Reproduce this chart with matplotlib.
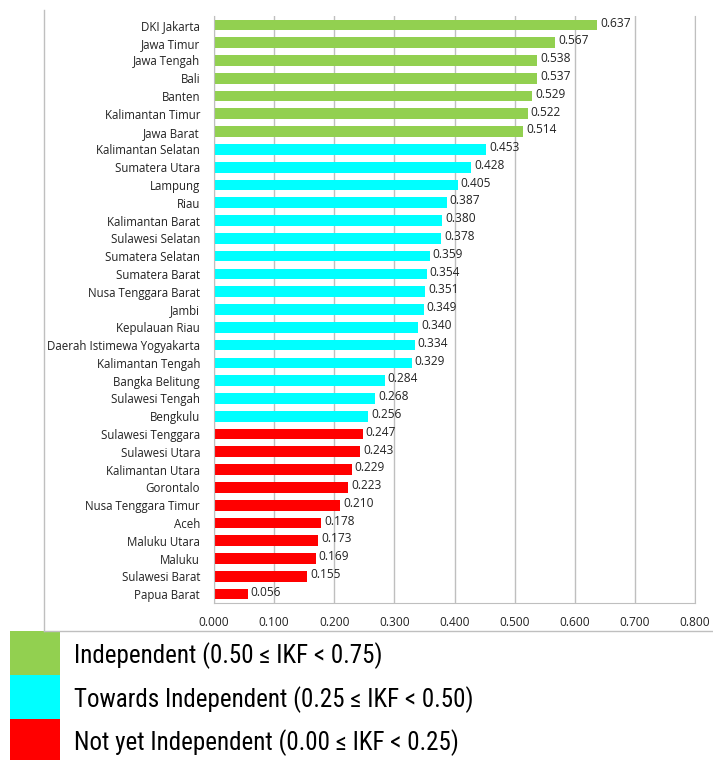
import matplotlib.pyplot as plt
from matplotlib.patches import Rectangle
from matplotlib.lines import Line2D
from matplotlib import font_manager

# Regional fiscal independence index (IKF) by province
provinces = [
    "DKI Jakarta", "Jawa Timur", "Jawa Tengah", "Bali", "Banten",
    "Kalimantan Timur", "Jawa Barat", "Kalimantan Selatan", "Sumatera Utara",
    "Lampung", "Riau", "Kalimantan Barat", "Sulawesi Selatan",
    "Sumatera Selatan", "Sumatera Barat", "Nusa Tenggara Barat", "Jambi",
    "Kepulauan Riau", "Daerah Istimewa Yogyakarta", "Kalimantan Tengah",
    "Bangka Belitung", "Sulawesi Tengah", "Bengkulu", "Sulawesi Tenggara",
    "Sulawesi Utara", "Kalimantan Utara", "Gorontalo", "Nusa Tenggara Timur",
    "Aceh", "Maluku Utara", "Maluku", "Sulawesi Barat", "Papua Barat",
]
ikf = [
    0.637, 0.567, 0.538, 0.537, 0.529, 0.522, 0.514, 0.453, 0.428, 0.405,
    0.387, 0.380, 0.378, 0.359, 0.354, 0.351, 0.349, 0.340, 0.334, 0.329,
    0.284, 0.268, 0.256, 0.247, 0.243, 0.229, 0.223, 0.210, 0.178, 0.173,
    0.169, 0.155, 0.056,
]
x_ticks = [0.0, 0.1, 0.2, 0.3, 0.4, 0.5, 0.6, 0.7, 0.8]

GREEN, CYAN, RED = "#92D050", "#00FFFF", "#FF0000"
legend_labels = [
    "Independent (0.50 \u2264 IKF < 0.75)",
    "Towards Independent (0.25 \u2264 IKF < 0.50)",
    "Not yet Independent (0.00 \u2264 IKF < 0.25)",
]

# pick a narrow face for the legend if one is installed
names = {f.name for f in font_manager.fontManager.ttflist}
narrow = [n for n in ["Liberation Sans Narrow", "Arial Narrow", "Roboto Condensed",
                      "DejaVu Sans Condensed"] if n in names]
legend_family = narrow + ["DejaVu Sans"]
condensed_dv = any(f.name == "DejaVu Sans" and f.stretch == "condensed"
                   for f in font_manager.fontManager.ttflist)


def band_color(v):
    if v >= 0.50:
        return GREEN
    if v >= 0.25:
        return CYAN
    return RED


W, H = 713, 760
fig = plt.figure(figsize=(W / 100, H / 100), dpi=100)

# axes placed in pixel terms
left, right, top, bottom = 214, 695, 16, 603
ax = fig.add_axes([left / W, 1 - bottom / H, (right - left) / W, (bottom - top) / H])

ypos = list(range(len(provinces)))
colors = [band_color(v) for v in ikf]
bars = ax.barh(ypos, ikf, height=0.6, color=colors, zorder=2)
ax.set_ylim(len(provinces) - 0.5, -0.5)
ax.set_xlim(0, 0.8)
ax.set_yticks(ypos)
ax.set_yticklabels(provinces, fontsize=8.3, family="Open Sans", color="#222222")
ax.set_xticks(x_ticks)
ax.set_xticklabels([f"{t:.3f}" for t in x_ticks], fontsize=8.6,
                   family="Open Sans", color="#222222")
ax.tick_params(axis="y", length=0, pad=10)
ax.tick_params(axis="x", length=0, pad=9)
ax.grid(True, axis="x", color="#BFBFBF", linewidth=1.0, zorder=0)

ax.spines["top"].set_visible(False)
for sp in ["bottom", "right", "left"]:
    ax.spines[sp].set_color("#BFBFBF")

for b, v in zip(bars, ikf):
    ax.text(v + 0.005, b.get_y() + b.get_height() / 2 - 0.1, f"{v:.3f}",
            va="center", ha="left", fontsize=8.6, family="Open Sans",
            color="#222222", zorder=3)

# outer frame lines (left and bottom)
fig.add_artist(Line2D([44 / W, 44 / W], [1 - 10 / H, 1 - 631 / H],
                      color="#BFBFBF", linewidth=1.0))
fig.add_artist(Line2D([44 / W, 1.0], [1 - 631 / H, 1 - 631 / H],
                      color="#BFBFBF", linewidth=1.0))

# colour legend
sw_top = [631, 675, 719]
sw_bot = [675, 719, 761]
for lab, c, t, b in zip(legend_labels, [GREEN, CYAN, RED], sw_top, sw_bot):
    fig.add_artist(Rectangle((10 / W, 1 - b / H), 50 / W, (b - t) / H,
                             transform=fig.transFigure, color=c, lw=0))
    fig.text(74 / W, 1 - ((t + b) / 2 + 3) / H, lab, fontsize=18,
             family=legend_family,
             fontstretch="condensed" if (condensed_dv and not narrow) else "normal",
             va="center", ha="left", color="black")

fig.savefig("out.png", dpi=100)
